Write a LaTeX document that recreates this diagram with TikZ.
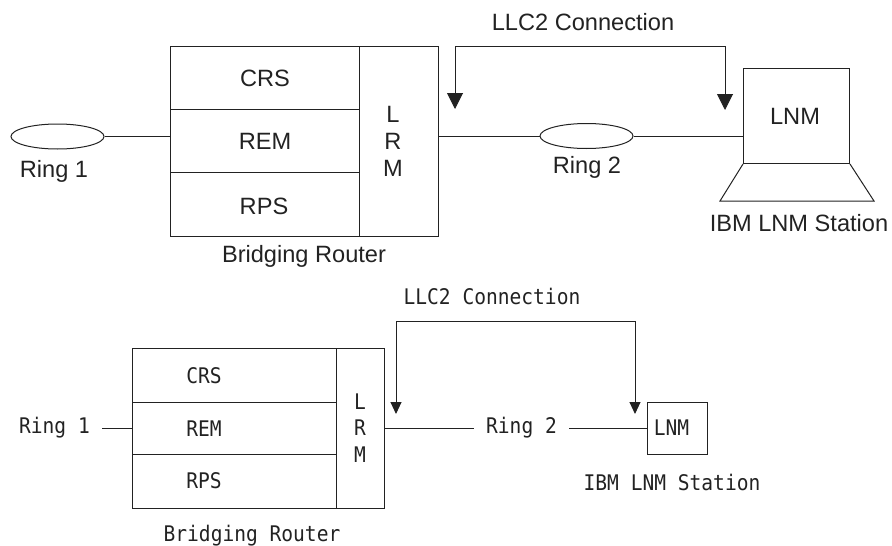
\documentclass[tikz,border=0pt]{standalone}
\usepackage{fontspec}
\setmainfont{Liberation Sans}
\newfontfamily\monof[FakeStretch=0.91]{DejaVu Sans Mono}
\usetikzlibrary{shapes.geometric,arrows.meta}
\definecolor{ink}{HTML}{222222}
\tikzset{
  line/.style={draw=ink,line width=1pt},
  box/.style={line,rectangle,inner sep=0pt,anchor=north west},
  ring/.style={line,ellipse,inner sep=0pt,minimum width=93pt,minimum height=25pt},
  toptxt/.style={text=ink,inner sep=0pt,font=\fontsize{23.6pt}{26pt}\selectfont},
  montxt/.style={text=ink,inner sep=0pt,font=\monof\fontsize{21.5pt}{26pt}\selectfont},
  bigarrow/.style={line,-{Triangle[length=16pt,width=16pt]}},
  smallarrow/.style={line,-{Triangle[length=12pt,width=11pt]}},
}
\begin{document}
\begin{tikzpicture}[x=1pt,y=-1pt]
\useasboundingbox (0,0) rectangle (892,546);
% ---------- top diagram
\node[box,minimum width=189pt,minimum height=63pt] (tcrs) at (170,46) {};
\node[box,minimum width=189pt,minimum height=63pt] (trem) at (170,109) {};
\node[box,minimum width=189pt,minimum height=64pt] (trps) at (170,172) {};
\node[box,minimum width=79pt,minimum height=190pt] (tlrm) at (359,46) {};
\node[toptxt] at (tcrs.center) {CRS};
\node[toptxt] at (trem.center) {REM};
\node[toptxt] at (264,206) {RPS};
\node[toptxt,align=center,font=\fontsize{23.6pt}{27pt}\selectfont] at (393,141) {L\\R\\M};
\node[ring] (tring1) at (57.5,136.5) {};
\node[ring] (tring2) at (586.5,136) {};
\node[toptxt] at (54,171) {Ring 1};
\node[toptxt] at (587,167) {Ring 2};
\node[box,minimum width=106pt,minimum height=95pt] (tlnm) at (743,68) {};
\node[toptxt] at (795,116) {LNM};
\coordinate (tbl) at (720,201);
\coordinate (tbr) at (874,201);
\draw[line,line join=miter] (tlnm.south west) -- (tbl) -- (tbr) -- (tlnm.south east);
\node[toptxt] at (799,223) {IBM LNM Station};
\node[toptxt] at (304,256) {Bridging Router};
\node[toptxt] at (583,22) {LLC2 Connection};
\coordinate (tl1) at (tlrm.east|-tring2.west);
\coordinate (tl2) at (tlnm.west|-tring2.east);
\draw[line] (tring1.east) -- (trem.west|-tring1.east);
\draw[line] (tl1) -- (tring2.west);
\draw[line] (tring2.east) -- (tl2);
\coordinate (taL) at (455,109);
\coordinate (taR) at (725,110);
\coordinate (ttL) at (455,46);
\coordinate (ttR) at (725,46);
\draw[bigarrow] (ttR) -- (taR);
\draw[bigarrow] (ttR) -- (ttL) -- (taL);
% ---------- bottom diagram
\node[box,minimum width=204pt,minimum height=54pt] (bcrs) at (132,348) {};
\node[box,minimum width=204pt,minimum height=52pt] (brem) at (132,402) {};
\node[box,minimum width=204pt,minimum height=54pt] (brps) at (132,454) {};
\node[box,minimum width=48pt,minimum height=160pt] (blrm) at (336,348) {};
\node[montxt] at (204,376) {CRS};
\node[montxt] at (204,428.5) {REM};
\node[montxt] at (204,481) {RPS};
\node[montxt,align=center,font=\monof\fontsize{21.5pt}{26.5pt}\selectfont] at (360,428) {L\\R\\M};
\node[montxt] (bring1) at (54.5,428) {Ring 1};
\node[montxt] (bring2) at (521.5,428) {Ring 2};
\node[box,minimum width=60pt,minimum height=52pt] (blnm) at (647,402) {};
\node[montxt] at (671.5,428) {LNM};
\node[montxt] at (672,482) {IBM LNM Station};
\node[montxt] at (252,536) {Bridging Router};
\node[montxt] at (492,296) {LLC2 Connection};
\coordinate (b1) at (102,428);
\coordinate (b2) at (474,428);
\coordinate (b3) at (569,428);
\draw[line] (b1) -- (brem.west|-b1);
\draw[line] (blrm.east|-b2) -- (b2);
\draw[line] (b3) -- (blnm.west|-b3);
\coordinate (baL) at (396,414);
\coordinate (baR) at (635,414);
\coordinate (btL) at (396,321);
\coordinate (btR) at (635,321);
\draw[smallarrow] (btR) -- (baR);
\draw[smallarrow] (btR) -- (btL) -- (baL);
\end{tikzpicture}
\end{document}
